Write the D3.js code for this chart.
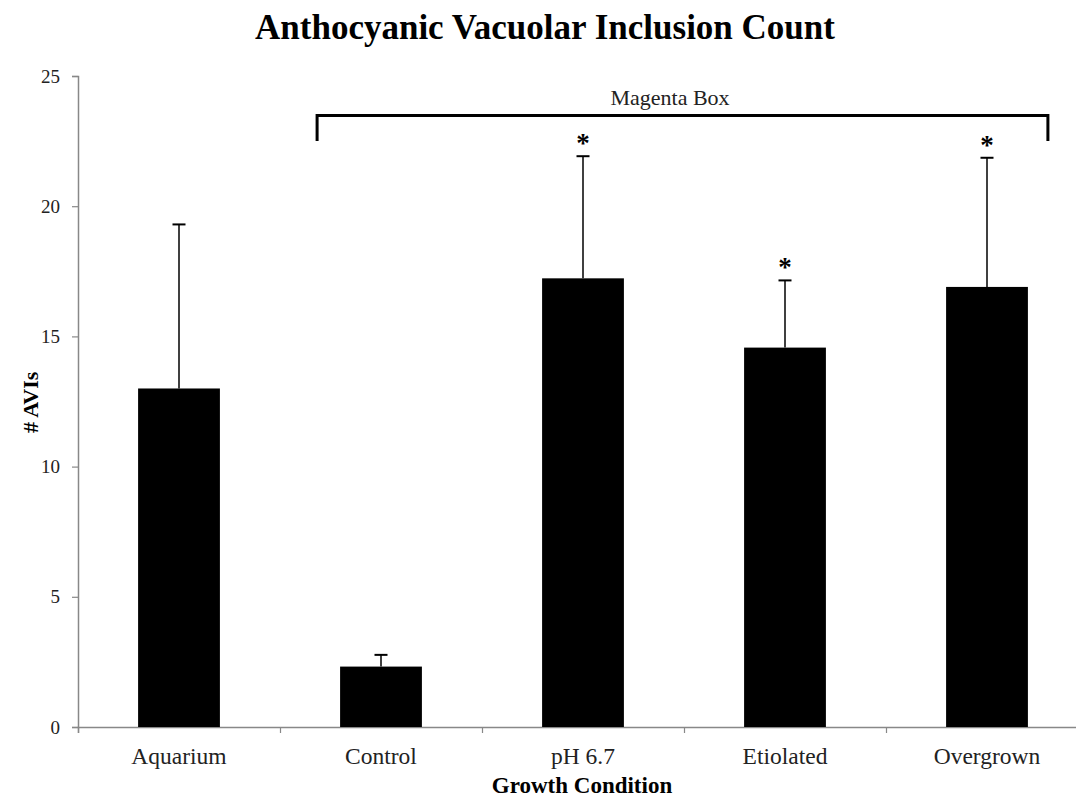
<!DOCTYPE html>
<html><head><meta charset="utf-8">
<script src="https://cdn.jsdelivr.net/npm/d3@7"></script>
<style>body{margin:0;background:#fff}svg{display:block}text{font-family:"Liberation Serif","Times New Roman",serif}</style>
</head><body>
<svg id="c" width="1076" height="799"></svg>
<script>
const categories = ["Aquarium","Control","pH 6.7","Etiolated","Overgrown"];
const means = [13.0, 2.32, 17.23, 14.57, 16.9];
const errTops = [19.3, 2.77, 21.92, 17.15, 21.86];
const significant = [false, false, true, true, true];
const yTicks = [0,5,10,15,20,25];
const bracketCats = ["Control","Overgrown"];
const bracketLabel = "Magenta Box";

const svg = d3.select("#c");
const x0 = 78, bandW = 202;
const x = d3.scaleBand().domain(categories).range([x0, x0 + bandW*categories.length]).paddingInner(0.595).paddingOuter(0.2975);
const y = d3.scaleLinear().domain([0,25]).range([727,76]);

// title
svg.append("text").attr("x",545).attr("y",39).attr("text-anchor","middle")
  .style("font-size","35px").style("font-weight","bold").text("Anthocyanic Vacuolar Inclusion Count");

// y axis
const ya = svg.append("g").attr("transform",`translate(${x0},0)`)
  .call(d3.axisLeft(y).tickValues(yTicks).tickSize(6).tickPadding(12));
ya.select(".domain").attr("stroke","#888").attr("stroke-width",1.5);
ya.selectAll(".tick line").attr("stroke","#888").attr("stroke-width",1.2);
ya.selectAll(".tick text").style("font-size","19px").attr("fill","#222").style("font-family","Liberation Serif");

// x axis (ticks at band boundaries)
const xa = svg.append("g").attr("transform",`translate(0,${y(0)})`);
const xlin = d3.scaleLinear().domain([0,categories.length]).range([x0, x0+bandW*categories.length]);
xa.call(d3.axisBottom(xlin).tickValues(d3.range(0,categories.length+1)).tickSize(6).tickFormat(""));
xa.select(".domain").attr("stroke","#888").attr("stroke-width",1.5);
xa.selectAll(".tick line").attr("stroke","#888").attr("stroke-width",1.2);
svg.append("g").selectAll("text").data(categories).join("text")
  .attr("x",d=>x(d)+x.bandwidth()/2).attr("y",764).attr("text-anchor","middle")
  .style("font-size","23.5px").attr("fill","#222").text(d=>d);

// axis titles
svg.append("text").attr("x",582).attr("y",793).attr("text-anchor","middle")
  .style("font-size","23px").style("font-weight","bold").text("Growth Condition");
svg.append("text").attr("transform","translate(38,433) rotate(-90)").attr("text-anchor","start")
  .style("font-size","22px").style("font-weight","bold").text("# AVIs");

// bars
svg.append("g").selectAll("rect").data(categories).join("rect")
  .attr("x",d=>x(d)).attr("width",x.bandwidth())
  .attr("y",(d,i)=>y(means[i])).attr("height",(d,i)=>y(0)-y(means[i]))
  .attr("fill","#000");

// error bars
const eb = svg.append("g").attr("stroke","#000").attr("stroke-width",1.5);
categories.forEach((c,i)=>{
  const cx = x(c)+x.bandwidth()/2;
  eb.append("line").attr("x1",cx).attr("x2",cx).attr("y1",y(means[i])).attr("y2",y(errTops[i]));
  eb.append("line").attr("x1",cx-6.5).attr("x2",cx+6.5).attr("y1",y(errTops[i])).attr("y2",y(errTops[i])).attr("stroke-width",2);
  if (significant[i]) {
    svg.append("text").attr("x",cx).attr("y",y(errTops[i])-4).attr("text-anchor","middle")
      .style("font-size","27px").style("font-weight","bold").text("*");
  }
});

// bracket
const bx1 = x(bracketCats[0])-23, bx2 = x(bracketCats[1])+x.bandwidth()+20;
svg.append("path").attr("d",`M${bx1},141V115.5H${bx2}V141`).attr("fill","none").attr("stroke","#000").attr("stroke-width",3);
svg.append("text").attr("x",670).attr("y",105).attr("text-anchor","middle")
  .style("font-size","22px").attr("fill","#222").text(bracketLabel);
</script>
</body></html>
